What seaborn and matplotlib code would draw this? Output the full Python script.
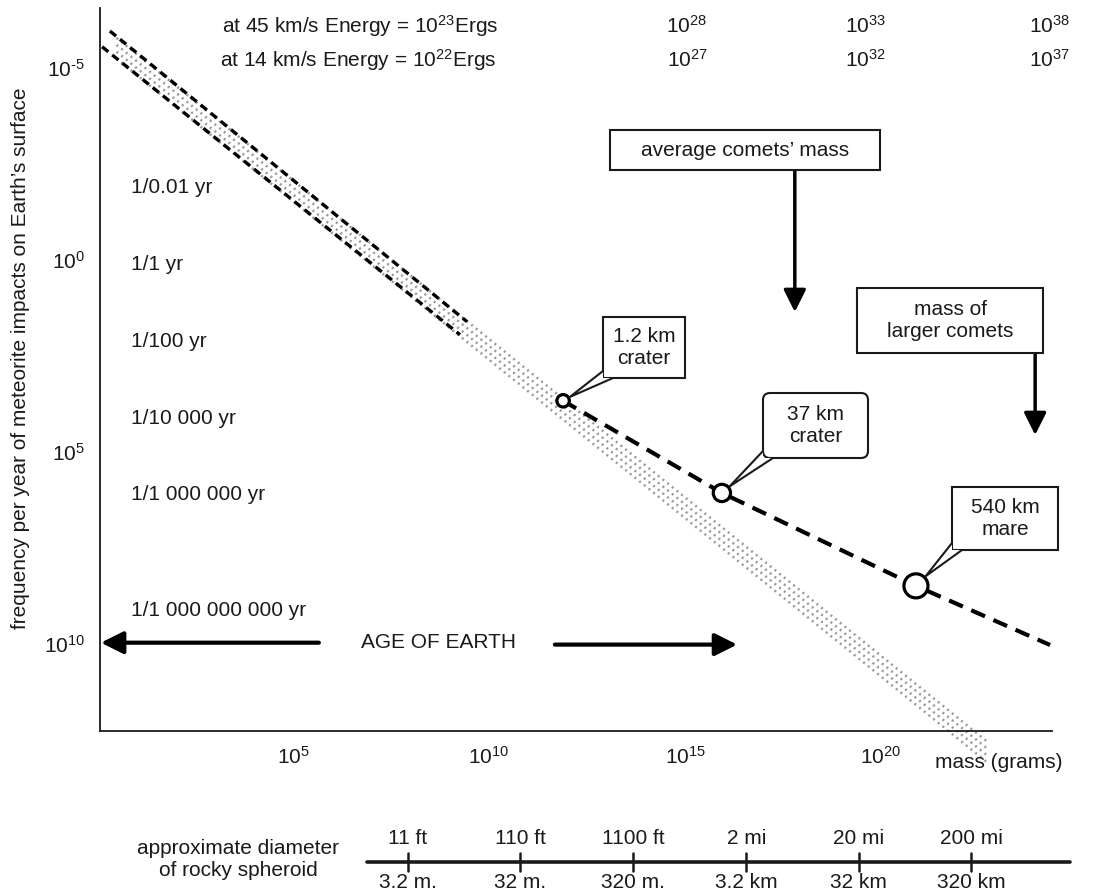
"""
Meteorite impact frequency vs. mass (log-log sketch)
"""

import numpy as np
import matplotlib

matplotlib.use("Agg")
import matplotlib.pyplot as plt
import matplotlib.transforms as mtransforms
from matplotlib.patches import Polygon, Rectangle, FancyBboxPatch
from matplotlib.lines import Line2D
import seaborn as sns

# ---- data (log10 values) ----
# dashed envelope of the small-body flux (log10 mass, log10 years between impacts)
upper_x = [0.33, 9.44]
upper_y = [-5.96, 1.61]
lower_x = [0.13, 9.26]
lower_y = [-5.55, 1.95]

# dotted gray band (centre line) and its row offsets
band_x = [0.5, 22.7]
band_y = [-5.51, 12.81]
band_offsets = [-0.27, -0.09, 0.09, 0.27]

# heavy dashed line for comets / large bodies
comet_x = [11.89, 15.94, 20.89, 24.31]
comet_y = [3.67, 6.07, 8.49, 10.03]

# craters marked on the comet line
crater_x = [11.89, 15.94, 20.89]
crater_y = [3.67, 6.07, 8.49]
crater_km = [1.2, 37, 540]
crater_s = [80, 155, 300]
crater_text = ["1.2 km\ncrater", "37 km\ncrater", "540 km\nmare"]

# recurrence labels inside the plot
yr_exp = [-2, 0, 2, 4, 6, 9]
yr_labels = ["1/0.01 yr", "1/1 yr", "1/100 yr", "1/10 000 yr",
             "1/1 000 000 yr", "1/1 000 000 000 yr"]

x_major = [5, 10, 15, 20]
x_labels = [r"$10^{5}$", r"$10^{10}$", r"$10^{15}$", r"$10^{20}$"]
y_major = [-5, 0, 5, 10]
y_labels = [r"$10^{\text{-}5}$", r"$10^{0}$", r"$10^{5}$", r"$10^{10}$"]

# impact energies at two velocities (mass exponent where each label sits)
energy_mass_exp = [15.05, 19.6, 24.3]
energy_45 = [r"$10^{28}$", r"$10^{33}$", r"$10^{38}$"]
energy_14 = [r"$10^{27}$", r"$10^{32}$", r"$10^{37}$"]

age_earth_exp = 9.97
avg_comet_exp = 17.8
large_comet_exp = 23.93

# diameter of a rocky spheroid vs. mass
diam_mass_exp = [7.93, 10.79, 13.67, 16.56, 19.43, 22.30]
diam_imperial = ["11 ft", "110 ft", "1100 ft", "2 mi", "20 mi", "200 mi"]
diam_metric = ["3.2 m.", "32 m.", "320 m.", "3.2 km", "32 km", "320 km"]

# ---- style ----
sns.set_theme(style="white")
plt.rcParams["font.family"] = ["Liberation Sans", "DejaVu Sans"]
plt.rcParams["mathtext.fontset"] = "custom"
plt.rcParams["mathtext.rm"] = "Liberation Sans"
plt.rcParams["mathtext.default"] = "regular"
INK = "#1a1a1a"
FS = 15

W, H = 1096, 893
fig = plt.figure(figsize=(W / 100, H / 100), dpi=100)
ax = fig.add_axes([100 / W, 1 - 731 / H, 952 / W, 723 / H])
# top-left pixel coordinates for the hand-placed annotations
pix = mtransforms.Affine2D().scale(1 / W, -1 / H).translate(0, 1) + fig.transFigure

ax.set_xlim(0.077, 24.36)
ax.set_ylim(12.27, -6.56)

# gray dotted band
for off in band_offsets:
    sns.lineplot(x=band_x, y=np.add(band_y, off), ax=ax, color="#9a9a9a",
                 lw=1.8, linestyle=(0, (0.8, 1.6)), errorbar=None,
                 clip_on=False, zorder=2)

# dashed envelope
for xs, ys in [(upper_x, upper_y), (lower_x, lower_y)]:
    sns.lineplot(x=xs, y=ys, ax=ax, color="black", lw=2.4,
                 linestyle=(0, (2.4, 1.5)), errorbar=None, zorder=3)

# comet line
sns.lineplot(x=comet_x, y=comet_y, ax=ax, color="black", lw=3.0,
             linestyle=(0, (3.6, 2.2)), errorbar=None, clip_on=False, zorder=3)

sns.scatterplot(x=crater_x, y=crater_y, size=crater_km,
                sizes=dict(zip(crater_km, crater_s)), ax=ax, color="white",
                edgecolor="black", linewidth=2.3, legend=False, zorder=6)

# ---- axes ----
ax.set_xticks(x_major)
ax.set_xticklabels(x_labels)
ax.set_xticks([v for v in range(1, 25) if v not in x_major], minor=True)
ax.set_yticks(y_major)
ax.set_yticklabels(y_labels)
ax.set_yticks([v for v in range(-6, 12) if v not in y_major], minor=True)
ax.tick_params(which="both", direction="in", color=INK, width=1.2,
               labelsize=FS, labelcolor=INK)
ax.tick_params(which="major", length=9)
ax.tick_params(which="minor", length=5)
ax.tick_params(axis="x", pad=11)
ax.tick_params(axis="y", pad=11)
for side in ["top", "right"]:
    ax.spines[side].set_visible(False)
for side in ["left", "bottom"]:
    ax.spines[side].set_color(INK)
    ax.spines[side].set_linewidth(1.3)
ax.set_xlabel("")
ax.set_ylabel("")

fig.text(21, 358, "frequency per year of meteorite impacts on Earth’s surface",
         transform=pix, rotation=90, ha="center", va="center",
         fontsize=FS, color=INK)
fig.text(935, 763, "mass (grams)", transform=pix, ha="left", va="center",
         fontsize=FS, color=INK)

for e, lab in zip(yr_exp, yr_labels):
    ax.text(0.87, e + 0.12, lab, ha="left", va="center", fontsize=FS, color=INK)

# energy rows
fig.text(222, 33, r"at 45 km/s Energy = $10^{23}$Ergs", transform=pix,
         ha="left", va="baseline", fontsize=FS, color=INK)
fig.text(220, 67, r"at 14 km/s Energy = $10^{22}$Ergs", transform=pix,
         ha="left", va="baseline", fontsize=FS, color=INK)
blend = mtransforms.blended_transform_factory(ax.transData, pix)
for mx, a, b in zip(energy_mass_exp, energy_45, energy_14):
    ax.text(mx, 33, a, transform=blend, ha="center", va="baseline",
            fontsize=FS, color=INK, clip_on=False)
    ax.text(mx, 67, b, transform=blend, ha="center", va="baseline",
            fontsize=FS, color=INK, clip_on=False)

# age of Earth
ax.text(8.7, age_earth_exp, "AGE OF EARTH", ha="center", va="center",
        fontsize=FS, color=INK)
arrow = dict(arrowstyle="-|>,head_length=0.9,head_width=0.45", lw=3,
             color="black", mutation_scale=15, shrinkA=0, shrinkB=0)
ax.annotate("", xy=(0.1, age_earth_exp), xytext=(5.66, age_earth_exp),
            arrowprops=arrow)
ax.annotate("", xy=(16.33, age_earth_exp + 0.05),
            xytext=(11.68, age_earth_exp + 0.05), arrowprops=arrow)


def to_pix(x, y):
    d = ax.transData.transform((x, y))
    return d[0], H - d[1]


def box(x0, y0, x1, y1, text, rounded=False):
    if rounded:
        p = FancyBboxPatch((x0, y0), x1 - x0, y1 - y0,
                           boxstyle="round,pad=0,rounding_size=7",
                           transform=pix, facecolor="white",
                           edgecolor=INK, lw=1.5, zorder=7)
    else:
        p = Rectangle((x0, y0), x1 - x0, y1 - y0, transform=pix,
                      facecolor="white", edgecolor=INK, lw=1.5, zorder=7)
    fig.add_artist(p)
    fig.text((x0 + x1) / 2, (y0 + y1) / 2, text, transform=pix, ha="center",
             va="center", fontsize=FS, color=INK, linespacing=1.15, zorder=10)


def callout(x0, y0, x1, y1, text, cx, cy, s, rounded=False):
    box(x0, y0, x1, y1, text, rounded)
    px, py = to_pix(cx, cy)
    r = np.sqrt(s) / 2 * 100 / 72 + 1.5
    corner = np.array([x0, y1])
    v = corner - np.array([px, py])
    v = v / np.hypot(*v)
    tip = np.array([px, py]) + v * r
    a = (x0, y1 - 7)
    b = (x0 + 10, y1)
    fig.add_artist(Polygon([a, tip, b, corner], closed=True, transform=pix,
                           facecolor="white", edgecolor="none", zorder=8))
    fig.add_artist(Line2D([a[0], tip[0], b[0]], [a[1], tip[1], b[1]],
                          transform=pix, color=INK, lw=1.5, zorder=9))


boxes = [(603, 317, 685, 378, False), (763, 393, 868, 458, True),
         (952, 487, 1058, 550, False)]
for (x0, y0, x1, y1, rnd), t, cx, cy, s in zip(boxes, crater_text, crater_x,
                                                crater_y, crater_s):
    callout(x0, y0, x1, y1, t, cx, cy, s, rnd)

# comet mass arrows
box(610, 130, 880, 170, "average comets’ mass")
ax_x = to_pix(avg_comet_exp, 0)[0]
ax.annotate("", xy=(ax_x, 312), xytext=(ax_x, 170), xycoords=pix,
            textcoords=pix, arrowprops=dict(arrow, lw=2.5))
box(857, 288, 1043, 353, "mass of\nlarger comets")
lx = to_pix(large_comet_exp, 0)[0]
ax.annotate("", xy=(lx, 435), xytext=(lx, 353), xycoords=pix,
            textcoords=pix, arrowprops=dict(arrow, lw=2.5))

# diameter scale under the plot
ax.plot([6.89, 24.82], [862, 862], transform=blend, color=INK, lw=2.6,
        clip_on=False)
for mx, top, bot in zip(diam_mass_exp, diam_imperial, diam_metric):
    ax.plot([mx, mx], [853, 871], transform=blend, color=INK, lw=1.8,
            clip_on=False)
    ax.text(mx, 838, top, transform=blend, ha="center", va="center",
            fontsize=FS, color=INK, clip_on=False)
    ax.text(mx, 883, bot, transform=blend, ha="center", va="center",
            fontsize=FS, color=INK, clip_on=False)
fig.text(238, 860, "approximate diameter\nof rocky spheroid", transform=pix,
         ha="center", va="center", fontsize=FS, color=INK, linespacing=1.2)

fig.savefig("out.png", dpi=100)
